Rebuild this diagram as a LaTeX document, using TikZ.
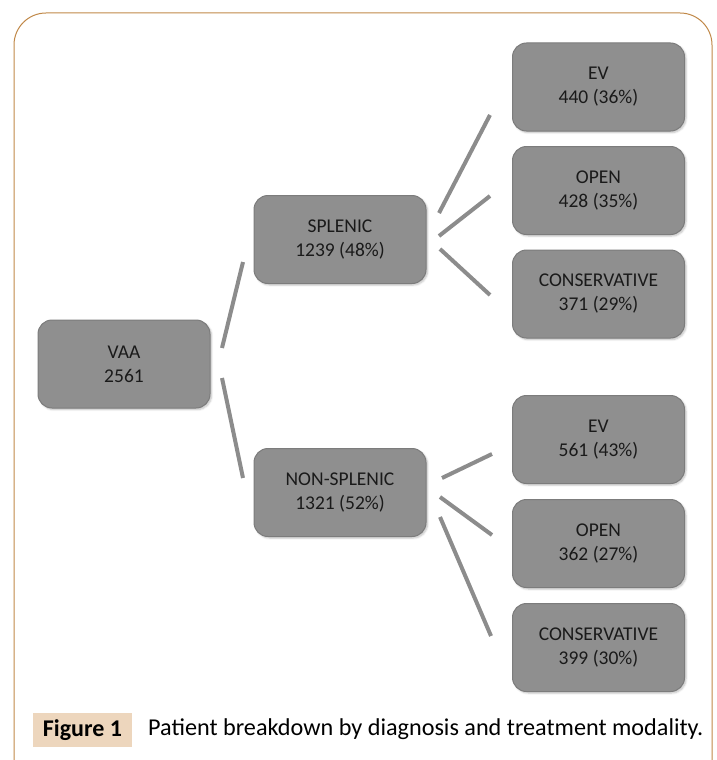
\documentclass[tikz,border=0pt]{standalone}
\usepackage{fontspec}
\setmainfont{Carlito}
\usetikzlibrary{shadows.blur}
\definecolor{boxfill}{HTML}{8F8F8F}
\definecolor{boxline}{HTML}{7C7C7C}
\definecolor{linkcol}{HTML}{8C8C8C}
\definecolor{framecol}{HTML}{C08848}
\definecolor{tagfill}{HTML}{EDD6BD}
\definecolor{txt}{HTML}{1A1A1A}
\begin{document}
\begin{tikzpicture}[x=1pt,y=-1pt,
  box/.style={draw=boxline, line width=1pt, fill=boxfill, rounded corners=14pt,
    minimum width=172pt, minimum height=88pt, align=center, text=txt,
    font=\fontsize{19.5}{24}\selectfont, inner sep=0pt,
    blur shadow={shadow xshift=1.5pt, shadow yshift=-1.5pt, shadow blur steps=5, shadow opacity=25}},
  link/.style={draw=linkcol, line width=4pt}]
\useasboundingbox (0,0) rectangle (716,760);
\begin{scope}
\clip (0,0) rectangle (716,760);
\draw[framecol, line width=1pt, rounded corners=32pt] (14,13) rectangle (712,820);
\end{scope}

\node[box] (vaa) at (124,364) {VAA\\2561};
\node[box] (spl) at (340,239.5) {SPLENIC\\1239 (48\%)};
\node[box] (non) at (340,492.5) {NON-SPLENIC\\1321 (52\%)};
\node[box] (ev1) at (598.5,87) {EV\\440 (36\%)};
\node[box] (op1) at (598.5,190.5) {OPEN\\428 (35\%)};
\node[box] (co1) at (598.5,294) {CONSERVATIVE\\371 (29\%)};
\node[box] (ev2) at (598.5,439.5) {EV\\561 (43\%)};
\node[box] (op2) at (598.5,543.5) {OPEN\\362 (27\%)};
\node[box] (co2) at (598.5,647.5) {CONSERVATIVE\\399 (30\%)};

\coordinate (a1) at (222,348); \coordinate (a2) at (243,262);
\coordinate (b1) at (222,378); \coordinate (b2) at (243,478);
\coordinate (c1) at (439,213); \coordinate (c2) at (490,115);
\coordinate (d1) at (439,236); \coordinate (d2) at (490,196);
\coordinate (e1) at (440,249); \coordinate (e2) at (490,295);
\coordinate (f1) at (442,478); \coordinate (f2) at (492,454);
\coordinate (g1) at (440,497); \coordinate (g2) at (492,535);
\coordinate (h1) at (440,517); \coordinate (h2) at (491,636);
\draw[link] (a1) -- (a2);
\draw[link] (b1) -- (b2);
\draw[link] (c1) -- (c2);
\draw[link] (d1) -- (d2);
\draw[link] (e1) -- (e2);
\draw[link] (f1) -- (f2);
\draw[link] (g1) -- (g2);
\draw[link] (h1) -- (h2);

\node[fill=tagfill, minimum width=99pt, minimum height=34pt, inner sep=0pt,
  font=\fontsize{24}{26}\selectfont\bfseries, text=black] (tag) at (82.5,730) {Figure 1};
\node[anchor=west, inner sep=0pt, font=\fontsize{24.2}{26}\selectfont, text=black] (cap)
  at (148,729) {Patient breakdown by diagnosis and treatment modality.};
\end{tikzpicture}
\end{document}
